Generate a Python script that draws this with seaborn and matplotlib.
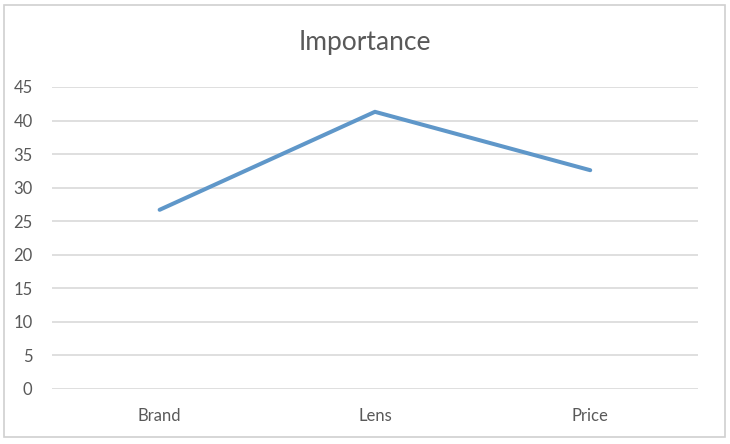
import matplotlib
matplotlib.use("Agg")
import matplotlib.pyplot as plt
import pandas as pd
import seaborn as sns
from matplotlib.patches import Rectangle

# ─── Data ─────────────────────────────────────────────────────────────────────
categories = ["Brand", "Lens", "Price"]
importance = [26.7, 41.3, 32.6]
y_ticks = [0, 5, 10, 15, 20, 25, 30, 35, 40, 45]

df = pd.DataFrame({"attribute": categories, "importance": importance})

sns.set_theme(style="white")
plt.rcParams["font.family"] = ["Lato", "DejaVu Sans"]

fig = plt.figure(figsize=(7.3, 4.44), dpi=100)
ax = fig.add_axes([0.0712, 0.1239, 0.8848, 0.6802])

sns.lineplot(data=df, x="attribute", y="importance", sort=False,
             color="#5F97C9", linewidth=2.9, ax=ax)

ax.set_ylim(0, 45)
ax.set_xlim(-0.5, 2.5)
ax.set_yticks(y_ticks)
ax.set_yticklabels([str(v) for v in y_ticks])
ax.grid(axis="y", color="#D9D9D9", linewidth=1.2)
ax.set_axisbelow(True)
for s in ax.spines.values():
    s.set_visible(False)
ax.tick_params(axis="both", length=0, labelsize=12, labelcolor="#595959")
ax.tick_params(axis="x", pad=14)
ax.tick_params(axis="y", pad=14)
ax.set_xlabel("")
ax.set_ylabel("")

fig.text(0.5, 0.905, "Importance", ha="center", va="center",
         fontsize=19, color="#595959")

# light grey chart border
fig.patches.append(Rectangle((0.0055, 0.016), 0.988, 0.973,
                             transform=fig.transFigure, fill=False,
                             edgecolor="#D0D0D0", linewidth=1.2))

fig.savefig("out.png", dpi=100)
